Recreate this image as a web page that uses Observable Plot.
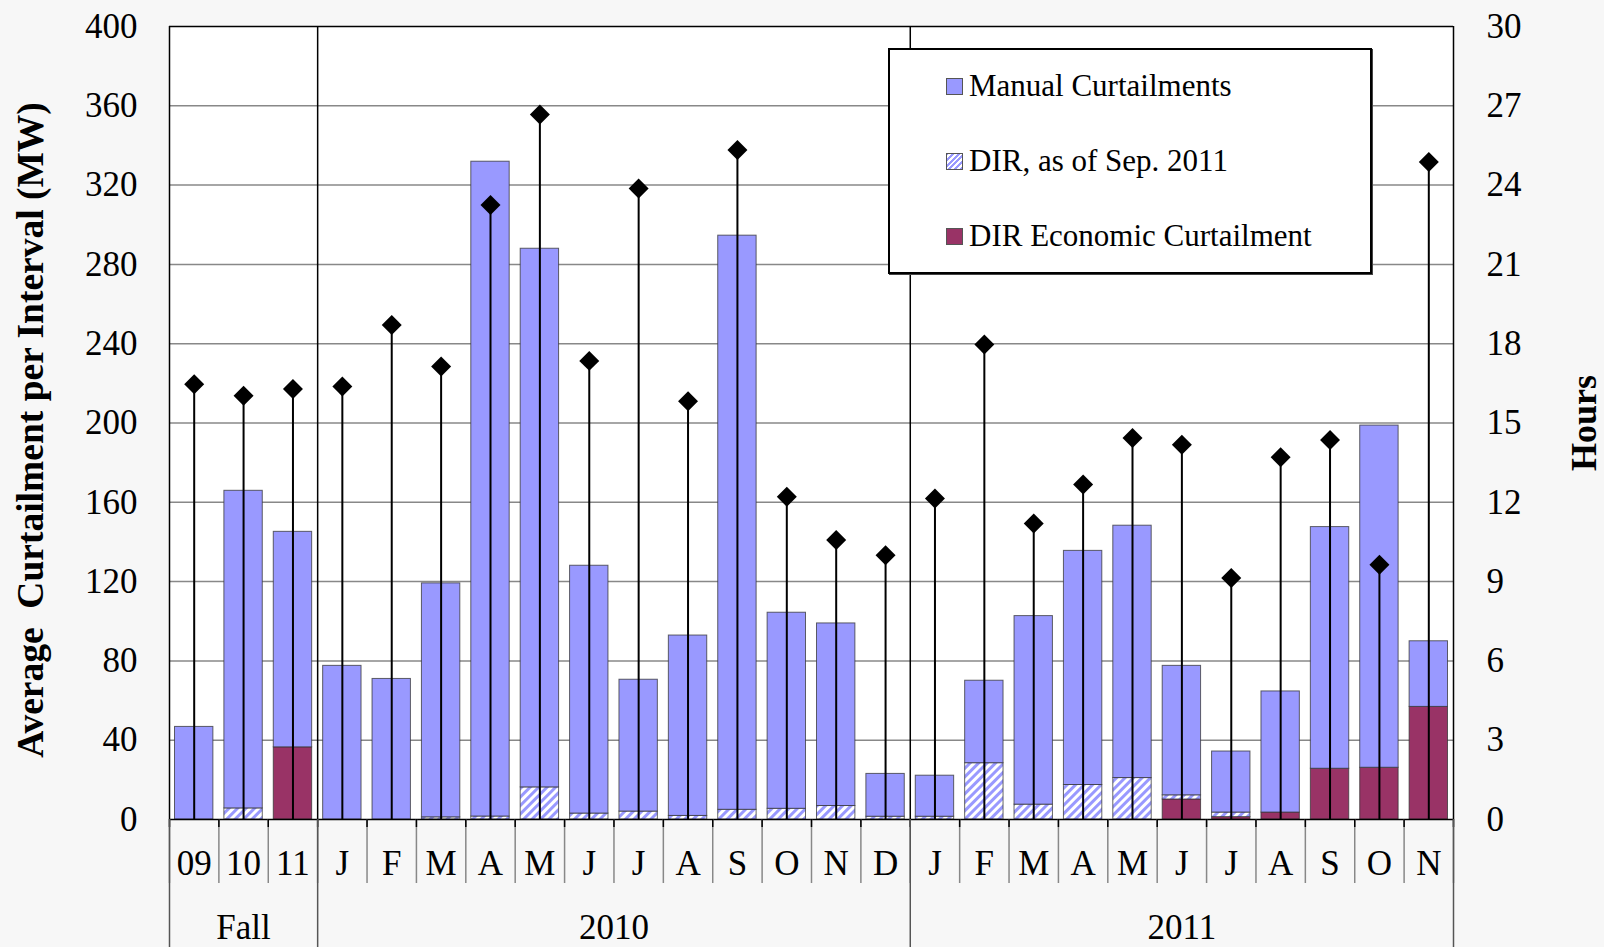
<!DOCTYPE html>
<html>
<head>
<meta charset="utf-8">
<script src="https://cdn.jsdelivr.net/npm/d3@7"></script>
<script src="https://cdn.jsdelivr.net/npm/@observablehq/plot@0.6"></script>
<style>
  html, body { margin: 0; padding: 0; background: #f7f7f7; }
  #wrap { position: relative; width: 1604px; height: 947px; font-family: "Liberation Serif", "Times New Roman", serif; }
  #legend {
    position: absolute; left: 888px; top: 48px; width: 484px; height: 226px;
    background: #fff; border: 2px solid #000; box-sizing: border-box;
    box-shadow: 1px 1px 0 #444;
  }
  .item { position: absolute; left: 56px; display: flex; align-items: center; font-size: 31px; color: #000; white-space: nowrap; }
  .sw { width: 15px; height: 15px; border: 1px solid #555; margin-right: 6px; flex: none; }
</style>
</head>
<body>
<div id="wrap"></div>
<script>
// Month / period labels along the x axis
const categories = ["09","10","11","J","F","M","A","M","J","J","A","S","O","N","D",
                    "J","F","M","A","M","J","J","A","S","O","N"];
// Group labels under the months, with the number of columns in each
const groupNames = ["Fall", "2010", "2011"];
const groupSizes = [3, 12, 11];

// Average curtailment per interval (MW), stacked from the bottom up
const dirEconomic = [0, 0, 36.4, 0, 0, 0, 0, 0, 0, 0, 0, 0, 0, 0, 0,
                     0, 0, 0, 0, 0, 10.1, 1.2, 3.5, 25.6, 26.1, 56.8];
const dirSep2011  = [0, 5.6, 0, 0, 0, 1.1, 1.5, 16.2, 3.0, 4.0, 1.8, 4.9, 5.4, 6.8, 1.4,
                     1.4, 28.4, 7.5, 17.4, 20.9, 2.1, 2.3, 0, 0, 0, 0];
const manual      = [46.7, 160.2, 108.7, 77.5, 70.9, 118.0, 330.3, 271.7, 125.0, 66.5, 91.0, 289.6, 98.9, 92.1, 21.6,
                     20.7, 41.6, 95.1, 118.1, 127.3, 65.3, 30.8, 61.1, 121.9, 172.6, 33.1];
// Hours of curtailment (right axis)
const hours = [16.47, 16.03, 16.29, 16.38, 18.71, 17.14, 23.25, 26.67, 17.35, 23.87, 15.82, 25.33, 12.21, 10.57, 10.0,
               12.14, 17.97, 11.2, 12.67, 14.43, 14.18, 9.14, 13.7, 14.36, 9.64, 24.87];

// Left axis runs 0–400 MW, right axis 0–30 h on the same grid
const mwMax = 400, hoursMax = 30;
const mwPerHour = mwMax / hoursMax;

// Stacked segments for every column
const segments = [];
categories.forEach((c, i) => {
  let base = 0;
  [["econ", dirEconomic[i]], ["dir", dirSep2011[i]], ["manual", manual[i]]].forEach(([s, v]) => {
    segments.push({series: s, i, y1: base, y2: base + v});
    base += v;
  });
});
const seg = s => segments.filter(d => d.series === s && d.y2 > d.y1);

const hourRows = hours.map((h, i) => ({i, h}));

// Group boundaries and group label centres (in column units)
const bounds = [0];
groupSizes.forEach(n => bounds.push(bounds[bounds.length - 1] + n));
const groupCenters = groupSizes.map((n, k) => bounds[k] + n / 2);

const colors = {manual: "#9999ff", econ: "#993366"};
const barInset = 5.5;
const barStroke = {stroke: "#333", strokeWidth: 1, strokeOpacity: 0.75, insetLeft: barInset, insetRight: barInset};
const yTicks = d3.range(0, mwMax + 1, 40);

const svg = Plot.plot({
  width: 1604,
  height: 947,
  marginLeft: 169,
  marginRight: 151,
  marginTop: 26,
  marginBottom: 128,
  style: {background: "#f7f7f7", fontFamily: "Liberation Serif, Times New Roman, serif", color: "#000"},
  x: {type: "linear", domain: [0, categories.length]},
  y: {domain: [0, mwMax]},
  marks: [
    Plot.frame({fill: "white", stroke: "none"}),
    Plot.gridY({ticks: yTicks.filter(t => t > 0 && t < mwMax), stroke: "#888", strokeOpacity: 1, strokeWidth: 1.5}),

    // stacked bars
    Plot.rectY(seg("econ"), {x1: d => d.i, x2: d => d.i + 1, y1: "y1", y2: "y2", fill: colors.econ, ...barStroke}),
    Plot.rectY(seg("dir"), {x1: d => d.i, x2: d => d.i + 1, y1: "y1", y2: "y2", fill: "url(#dirHatch)", ...barStroke}),
    Plot.rectY(seg("manual"), {x1: d => d.i, x2: d => d.i + 1, y1: "y1", y2: "y2", fill: colors.manual, ...barStroke}),

    // frame: top border, baseline, side borders and group separators
    Plot.ruleY([mwMax], {stroke: "#000", strokeWidth: 1.5}),
    Plot.ruleX(bounds, {stroke: "#000", strokeWidth: 1.5}),
    Plot.ruleY([0], {stroke: "#000", strokeWidth: 1.5}),

    // hours: stem from zero with a diamond marker
    Plot.ruleX(hourRows, {x: d => d.i + 0.5, y1: 0, y2: d => d.h * mwPerHour, stroke: "#000", strokeWidth: 2}),
    Plot.dot(hourRows, {x: d => d.i + 0.5, y: d => d.h * mwPerHour, symbol: "diamond2", r: 9, fill: "#000", stroke: "none"}),

    // left and right value axes
    Plot.axisY({anchor: "left", ticks: yTicks, tickSize: 0, tickPadding: 32, fontSize: 35, label: null}),
    Plot.axisY({anchor: "right", ticks: yTicks, tickSize: 0, tickPadding: 33, fontSize: 35, label: null,
                tickFormat: d => d3.format("d")(d / mwPerHour), textAnchor: "start"}),

    // category cells below the plot
    Plot.axisX({ticks: d3.range(0, categories.length + 1), tickSize: 64, tickFormat: () => "", stroke: "#888", strokeWidth: 1.5, label: null}),
    Plot.axisX({ticks: d3.range(0, categories.length + 1), tickSize: 8, tickFormat: () => "", stroke: "#000", strokeWidth: 1.5, label: null}),
    Plot.axisX({ticks: bounds, tickSize: 128, tickFormat: () => "", stroke: "#555", strokeWidth: 1.5, label: null}),
    Plot.axisX({ticks: categories.map((c, i) => i + 0.5), tickSize: 0, tickPadding: 31, fontSize: 35, label: null,
                tickFormat: d => categories[Math.floor(d)]}),
    Plot.axisX({ticks: groupCenters, tickSize: 0, tickPadding: 95, fontSize: 35, label: null,
                tickFormat: d => groupNames[groupCenters.indexOf(d)]}),

    // axis titles
    Plot.text(["Average\u00a0 Curtailment per Interval (MW)"], {frameAnchor: "left", dx: -139, dy: 7, rotate: -90,
               textAnchor: "middle", fontSize: 37.5, fontWeight: "bold"}),
    Plot.text(["Hours"], {frameAnchor: "right", dx: 131, rotate: -90, textAnchor: "middle", fontSize: 36, fontWeight: "bold"})
  ]
});

// hatch pattern for the DIR segment
const defs = d3.select(svg).insert("defs", ":first-child");
const pat = defs.append("pattern")
  .attr("id", "dirHatch")
  .attr("patternUnits", "userSpaceOnUse")
  .attr("width", 6).attr("height", 6)
  .attr("patternTransform", "rotate(45)");
pat.append("rect").attr("width", 6).attr("height", 6).attr("fill", "#fff");
pat.append("rect").attr("width", 3).attr("height", 6).attr("fill", "#9999ff");

const wrap = document.getElementById("wrap");
wrap.appendChild(svg);

// legend box drawn inside the plot area
const legendItems = [
  {label: "Manual Curtailments", bg: colors.manual},
  {label: "DIR, as of Sep. 2011", bg: "repeating-linear-gradient(-45deg, #9999ff 0 2px, #fff 2px 4px)"},
  {label: "DIR Economic Curtailment", bg: colors.econ}
];
const legend = document.createElement("div");
legend.id = "legend";
legendItems.forEach((it, k) => {
  const row = document.createElement("div");
  row.className = "item";
  row.style.top = (18 + k * 75) + "px";
  const sw = document.createElement("span");
  sw.className = "sw";
  sw.style.background = it.bg;
  const tx = document.createElement("span");
  tx.textContent = it.label;
  row.appendChild(sw);
  row.appendChild(tx);
  legend.appendChild(row);
});
wrap.appendChild(legend);
</script>
</body>
</html>
